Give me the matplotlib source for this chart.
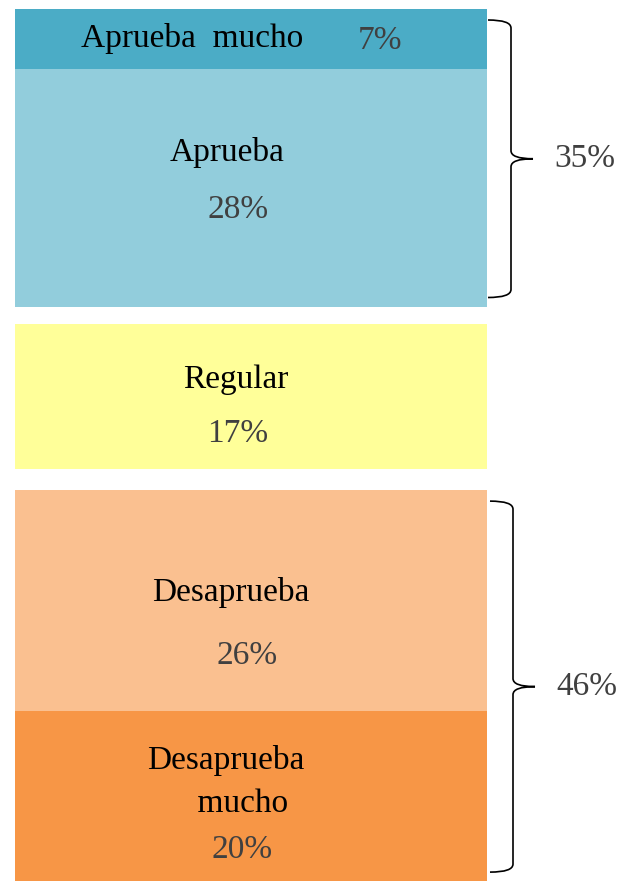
import matplotlib.pyplot as plt
from matplotlib.path import Path
from matplotlib.patches import PathPatch, Rectangle

plt.rcParams['font.family'] = ['Liberation Serif', 'DejaVu Serif']

# data
labels = ["Aprueba  mucho", "Aprueba", "Regular", "Desaprueba", "Desaprueba\n    mucho"]
values = [7, 28, 17, 26, 20]
groups = [0, 0, 1, 2, 2]
group_totals = {0: "35%", 2: "46%"}
colors = ["#4BACC6", "#92CDDC", "#FFFF99", "#FAC090", "#F79646"]

px_per_unit = 8.5
top_margin = 1.06
gaps = [2.1, 2.5]

fig = plt.figure(figsize=(6.21, 8.83), dpi=100)
ax = fig.add_axes([0, 0, 1, 1])
ax.set_xlim(0, 621)
ax.set_ylim(883 / px_per_unit, 0)
ax.axis('off')

x_left, x_right = 15, 487

# stack positions
starts = []
y = top_margin
for i, v in enumerate(values):
    if i > 0 and groups[i] != groups[i - 1]:
        y += gaps[groups[i] - 1]
    starts.append(y)
    y += v

for i, (lab, v, c) in enumerate(zip(labels, values, colors)):
    ax.add_patch(Rectangle((x_left, starts[i]), x_right - x_left, v,
                           facecolor=c, edgecolor='none'))

fs = 24
txt = dict(fontsize=fs, ha='center', va='center')
pct = dict(fontsize=fs, ha='center', va='center', color='#404040')


def py(p):
    return p / px_per_unit


# Aprueba mucho (one line)
ax.text(192, py(39), labels[0], **txt)
ax.text(380, py(41), f"{values[0]}%", **pct)
# Aprueba
ax.text(227, py(152), labels[1], **txt)
ax.text(238, py(210), f"{values[1]}%", **pct)
# Regular
ax.text(236, py(380), labels[2], **txt)
ax.text(238, py(434), f"{values[2]}%", **pct)
# Desaprueba
ax.text(231, py(593), labels[3], **txt)
ax.text(247, py(656), f"{values[3]}%", **pct)
# Desaprueba mucho
ax.text(226, py(782), labels[4], linespacing=1.55, **txt)
ax.text(242, py(850), f"{values[4]}%", **pct)


def brace(ax, x0, y_top, y_bot, width=23, tip=22, r_px=8):
    r = r_px / px_per_unit
    x1 = x0 + width
    ym = (y_top + y_bot) / 2
    verts = [
        (x0, y_top), (x1, y_top), (x1, y_top + r),
        (x1, ym - r), (x1, ym), (x1 + tip, ym),
        (x1, ym), (x1, ym + r),
        (x1, y_bot - r), (x1, y_bot), (x0, y_bot),
    ]
    codes = [Path.MOVETO, Path.CURVE3, Path.CURVE3,
             Path.LINETO, Path.CURVE3, Path.CURVE3,
             Path.CURVE3, Path.CURVE3,
             Path.LINETO, Path.CURVE3, Path.CURVE3]
    ax.add_patch(PathPatch(Path(verts, codes), facecolor='none',
                           edgecolor='black', lw=1.2))
    return x1 + tip, ym


for g, total in group_totals.items():
    idx = [i for i in range(len(values)) if groups[i] == g]
    y_top = starts[idx[0]] + 11 / px_per_unit
    y_bot = starts[idx[-1]] + values[idx[-1]] - 9 / px_per_unit
    x0 = 488 if g == 0 else 490
    xt, ym = brace(ax, x0, y_top, y_bot)
    ax.text(xt + 52, ym, total, fontsize=fs, ha='center', va='center',
            color='#404040')

fig.savefig("out.png", dpi=100)
